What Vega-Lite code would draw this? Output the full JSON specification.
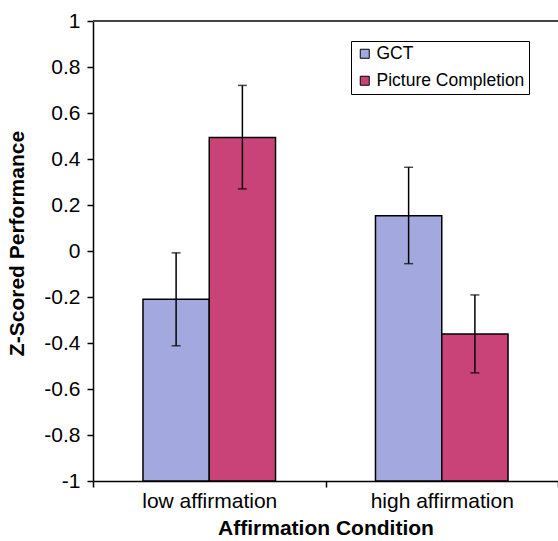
{
  "$schema": "https://vega.github.io/schema/vega-lite/v6.json",
  "width": 465,
  "height": 460,
  "autosize": {"type": "none"},
  "padding": {"left": 93, "top": 21, "right": 0, "bottom": 60},
  "background": "white",
  "config": {
    "view": {"stroke": null},
    "font": "Liberation Sans",
    "axis": {
      "grid": false,
      "domainColor": "#000",
      "domainWidth": 1.5,
      "tickColor": "#000",
      "tickWidth": 1.5,
      "labelColor": "#000",
      "titleColor": "#000",
      "labelFont": "Liberation Sans",
      "titleFont": "Liberation Sans",
      "labelFontSize": 21,
      "titleFontSize": 21,
      "titleFontWeight": "bold"
    }
  },
  "data": {
    "values": [
      {"condition": "low affirmation", "measure": "GCT", "mean": -0.21, "lo": -0.412, "hi": -0.008},
      {"condition": "low affirmation", "measure": "Picture Completion", "mean": 0.494, "lo": 0.27, "hi": 0.72},
      {"condition": "high affirmation", "measure": "GCT", "mean": 0.153, "lo": -0.055, "hi": 0.364},
      {"condition": "high affirmation", "measure": "Picture Completion", "mean": -0.361, "lo": -0.53, "hi": -0.191}
    ]
  },
  "layer": [
    {
      "mark": {"type": "bar", "stroke": "#000", "strokeWidth": 1.5},
      "encoding": {
        "x": {
          "field": "condition", "type": "nominal",
          "sort": ["low affirmation", "high affirmation"],
          "scale": {"paddingInner": 0, "paddingOuter": 0},
          "axis": {"title": "Affirmation Condition", "labelAngle": 0, "tickBand": "extent", "tickSize": 6, "labelPadding": 3, "titlePadding": 6}
        },
        "xOffset": {
          "field": "measure", "type": "nominal",
          "sort": ["GCT", "Picture Completion"],
          "scale": {"paddingOuter": 0.754, "paddingInner": 0}
        },
        "y": {
          "field": "mean", "type": "quantitative",
          "scale": {"domain": [-1, 1], "nice": false, "zero": false},
          "axis": {
            "title": "Z-Scored Performance",
            "values": [-1, -0.8, -0.6, -0.4, -0.2, 0, 0.2, 0.4, 0.6, 0.8, 1],
            "labelExpr": "'' + round(datum.value*10)/10",
            "tickSize": 6,
            "labelPadding": 7,
            "titleX": -76,
            "titleY": 222,
            "titleAlign": "center",
            "titleBaseline": "middle"
          }
        },
        "y2": {"datum": -1},
        "color": {
          "field": "measure", "type": "nominal",
          "scale": {"domain": ["GCT", "Picture Completion"], "range": ["#A3A9DE", "#C94379"]},
          "legend": {
            "orient": "none", "legendX": 258, "legendY": 20, "title": null,
            "strokeColor": "#000", "fillColor": "white", "padding": 4,
            "symbolType": "square", "symbolSize": 81, "symbolStrokeColor": "#000", "symbolStrokeWidth": 1,
            "labelFontSize": 17.5, "labelFont": "Liberation Sans", "labelColor": "#000",
            "rowPadding": 8, "labelOffset": 3, "symbolOffset": 1, "labelLimit": 300
          }
        }
      }
    },
    {
      "mark": {"type": "rule", "color": "#000", "strokeWidth": 1.5},
      "encoding": {
        "x": {"field": "condition", "type": "nominal", "sort": ["low affirmation", "high affirmation"]},
        "xOffset": {"field": "measure", "type": "nominal", "sort": ["GCT", "Picture Completion"]},
        "y": {"field": "lo", "type": "quantitative"},
        "y2": {"field": "hi"}
      }
    },
    {
      "mark": {"type": "tick", "color": "#000", "size": 9, "thickness": 1.5},
      "encoding": {
        "x": {"field": "condition", "type": "nominal", "sort": ["low affirmation", "high affirmation"]},
        "xOffset": {"field": "measure", "type": "nominal", "sort": ["GCT", "Picture Completion"]},
        "y": {"field": "lo", "type": "quantitative"}
      }
    },
    {
      "mark": {"type": "tick", "color": "#000", "size": 9, "thickness": 1.5},
      "encoding": {
        "x": {"field": "condition", "type": "nominal", "sort": ["low affirmation", "high affirmation"]},
        "xOffset": {"field": "measure", "type": "nominal", "sort": ["GCT", "Picture Completion"]},
        "y": {"field": "hi", "type": "quantitative"}
      }
    },
    {
      "mark": {"type": "rule", "color": "#444", "strokeWidth": 1.5},
      "encoding": {"y": {"datum": 1}}
    }
  ]
}
